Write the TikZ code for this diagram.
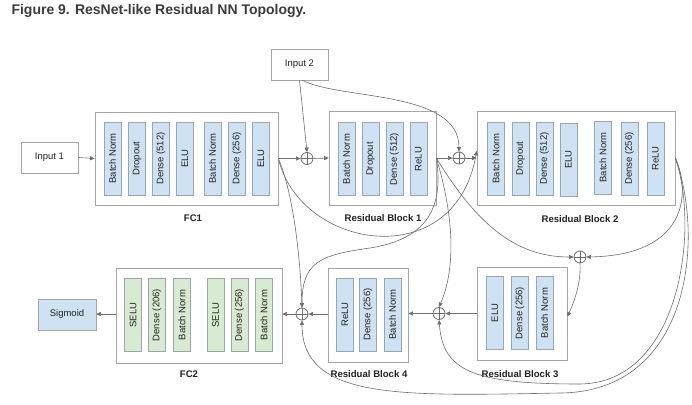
\documentclass[tikz,border=0pt]{standalone}
\usepackage{fontspec}
\setmainfont{Liberation Sans}
\usetikzlibrary{arrows.meta}
\definecolor{linegray}{HTML}{6E6E6E}
\definecolor{boxgray}{HTML}{A6A6A6}
\definecolor{layerblue}{HTML}{CFE2F3}
\definecolor{layergreen}{HTML}{D9EAD3}
\definecolor{layeredge}{HTML}{9AA5AE}
\definecolor{titlegray}{HTML}{3C3C3C}
\definecolor{textdark}{HTML}{222222}
\begin{document}
\begin{tikzpicture}[x=1pt,y=-1pt,
  outerbox/.style={draw=boxgray, fill=white, line width=0.7pt, inner sep=0pt},
  layer/.style={draw=layeredge, fill=layerblue, line width=0.6pt, rotate=90, minimum width=73pt, minimum height=17pt, inner sep=0pt, font=\fontsize{9.5}{11}\selectfont, text=textdark},
  greenlayer/.style={layer, fill=layergreen},
  iobox/.style={draw=boxgray, line width=0.7pt, fill=white, inner sep=0pt, font=\fontsize{9.5}{11}\selectfont, text=textdark},
  blocklabel/.style={font=\bfseries\fontsize{9.6}{11}\selectfont, text=textdark},
  addnode/.style={circle, draw=linegray, line width=0.8pt, minimum size=12pt, inner sep=0pt, fill=white,
    path picture={\draw[linegray, line width=0.8pt] (path picture bounding box.north) -- (path picture bounding box.south) (path picture bounding box.west) -- (path picture bounding box.east);}},
  conn/.style={draw=linegray, line width=0.6pt, -{Triangle[length=4.5pt,width=4pt]}},
]
\fill[white] (0,0) rectangle (692,404);
\useasboundingbox (0,0) rectangle (692,404);

\node[anchor=base west, font=\bfseries\fontsize{14}{16}\selectfont, text=titlegray] (title) at (8,14.5) {Figure 9. ResNet-like Residual NN Topology.};

% inputs / output
\node[iobox, minimum width=57pt, minimum height=31pt] (in1) at (49.5,157.5) {Input 1};
\node[iobox, minimum width=57pt, minimum height=31pt] (in2) at (299.5,64.5) {Input 2};
\node[iobox, fill=layerblue, minimum width=58pt, minimum height=31pt] (sig) at (67,314.5) {Sigmoid};

% outer boxes
\node[outerbox, minimum width=183pt, minimum height=93pt] (fc1) at (186.5,158.5) {};
\node[outerbox, minimum width=107pt, minimum height=94pt] (rb1) at (382.5,158) {};
\node[outerbox, minimum width=198pt, minimum height=94pt] (rb2) at (576,158) {};
\node[outerbox, minimum width=90pt, minimum height=93pt] (rb3) at (522,313.5) {};
\node[outerbox, minimum width=80pt, minimum height=94pt] (rb4) at (368,315) {};
\node[outerbox, minimum width=166pt, minimum height=95pt] (fc2) at (199,315.5) {};

% labels
\node[blocklabel] (fc1lab) at (193,218) {FC1};
\node[blocklabel] (rb1lab) at (383,218) {Residual Block 1};
\node[blocklabel] (rb2lab) at (580,219) {Residual Block 2};
\node[blocklabel] (rb3lab) at (520,374) {Residual Block 3};
\node[blocklabel] (rb4lab) at (369,374) {Residual Block 4};
\node[blocklabel] (fc2lab) at (189,374) {FC2};

% FC1 layers
\node[layer] (fc1a) at (112.5,158.5) {Batch Norm};
\node[layer] (fc1b) at (137,158.5) {Dropout};
\node[layer] (fc1c) at (161,158.5) {Dense (512)};
\node[layer] (fc1d) at (185,158.5) {ELU};
\node[layer] (fc1e) at (212.5,158.5) {Batch Norm};
\node[layer] (fc1f) at (237,158.5) {Dense (256)};
\node[layer] (fc1g) at (261,158.5) {ELU};

% RB1 layers
\node[layer] (rb1a) at (346.5,159) {Batch Norm};
\node[layer] (rb1b) at (370.5,159) {Dropout};
\node[layer] (rb1c) at (394.5,159) {Dense (512)};
\node[layer] (rb1d) at (418.5,159) {ReLU};

% RB2 layers
\node[layer] (rb2a) at (496,158.5) {Batch Norm};
\node[layer] (rb2b) at (520.5,158.5) {Dropout};
\node[layer] (rb2c) at (544.5,158.5) {Dense (512)};
\node[layer] (rb2d) at (568.5,159.5) {ELU};
\node[layer] (rb2e) at (603,157.5) {Batch Norm};
\node[layer] (rb2f) at (629.5,158.5) {Dense (256)};
\node[layer] (rb2g) at (655.5,158.5) {ReLU};

% RB3 layers
\node[layer] (rb3a) at (495,313) {ELU};
\node[layer] (rb3b) at (520,313) {Dense (256)};
\node[layer] (rb3c) at (544.5,313) {Batch Norm};

% RB4 layers
\node[layer] (rb4a) at (345,314.5) {ReLU};
\node[layer] (rb4b) at (368,314.5) {Dense (256)};
\node[layer] (rb4c) at (392.5,314.5) {Batch Norm};

% FC2 layers
\node[greenlayer] (fc2a) at (133,315) {SELU};
\node[greenlayer] (fc2b) at (157,315) {Dense (206)};
\node[greenlayer] (fc2c) at (182,315) {Batch Norm};
\node[greenlayer] (fc2d) at (215.5,315) {SELU};
\node[greenlayer] (fc2e) at (239.5,315) {Dense (256)};
\node[greenlayer] (fc2f) at (264,315) {Batch Norm};

% add nodes
\node[addnode] (p1) at (307,158.5) {};
\node[addnode] (p2) at (459,158) {};
\node[addnode] (p3) at (580,257) {};
\node[addnode] (p4) at (439,313.5) {};
\node[addnode] (p5) at (302,314) {};

% main flow
\draw[conn] (in1.east) -- (fc1.west);
\draw[conn] (fc1.east) -- (p1.west);
\draw[conn] (p1.east) -- (rb1.west);
\draw[conn] (rb1.east) -- (p2.west);
\draw[conn] (p2.east) -- (rb2.west);
\draw[conn] (rb3.west |- p4) -- (p4.east);
\draw[conn] (p4.west) -- (rb4.east |- p4);
\draw[conn] (rb4.west |- p5) -- (p5.east);
\draw[conn] (p5.west) -- (fc2.east |- p5);
\draw[conn] (fc2.west |- p5) -- (sig.east |- p5);

% input 2
\draw[conn] (in2.south) -- (p1.north);
\draw[conn] ([xshift=3pt]in2.south) .. controls (340,100) and (459,90) .. (p2.north);

% skip connections from FC1
\draw[conn] (fc1.east) .. controls (300,250) and (455,275) .. ([yshift=7pt]rb2.west);
\draw[conn] (fc1.east) .. controls (292,190) and (300,250) .. (p5.north);

% skip connections from RB1
\draw[conn] (rb1.east) .. controls (445,215) and (420,240) .. (370,248) .. controls (320,255) and (302,262) .. (p5.north);
\draw[conn] (rb1.east) .. controls (455,220) and (455,270) .. (p4.north);
\draw[conn] (rb1.east) .. controls (480,230) and (520,257) .. (p3.west);

% skip connections from RB2
\draw[conn] (rb2.east) .. controls (690,190) and (690,255) .. (p3.east);
\draw[conn] (rb2.east) .. controls (700,230) and (680,383) .. (580,384) .. controls (470,384) and (443,370) .. (p4.south);
\draw[conn] (rb2.east) .. controls (705,240) and (690,392) .. (560,393) .. controls (400,396) and (302,400) .. (p5.south);

% add 3 into RB3
\draw[conn] (p3.south) .. controls (581,280) and (576,298) .. ([yshift=-3pt]rb3.east);
\end{tikzpicture}
\end{document}
